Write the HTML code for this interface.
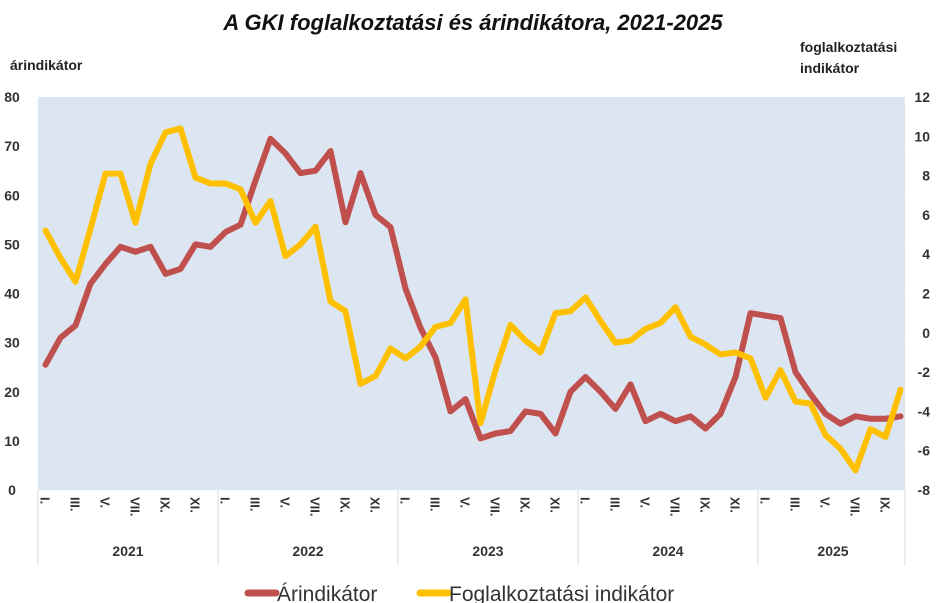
<!DOCTYPE html>
<html><head><meta charset="utf-8"><style>
html,body{margin:0;padding:0;background:#fff;}
svg{display:block;font-family:"Liberation Sans",sans-serif;}
</style></head><body>
<svg id="chart" width="946" height="603" viewBox="0 0 946 603">
<text x="473" y="30" text-anchor="middle" font-size="22" font-weight="bold" font-style="italic" fill="#111">A GKI foglalkoztatási és árindikátora, 2021-2025</text>
<text x="10" y="70" font-size="14" font-weight="bold" fill="#222">árindikátor</text>
<text x="800" y="52" font-size="14" font-weight="bold" fill="#222">foglalkoztatási</text>
<text x="800" y="73" font-size="14" font-weight="bold" fill="#222">indikátor</text>
<rect x="38" y="97" width="867" height="393" fill="#dce6f2"/>
<g id="grid"></g><g id="axes"></g><g id="series"></g>
<g>
<line x1="248" y1="593" x2="276" y2="593" stroke="#c0504d" stroke-width="7" stroke-linecap="round"/>
<text x="277" y="601" font-size="21" fill="#333">Árindikátor</text>
<line x1="420" y1="593" x2="448" y2="593" stroke="#ffc000" stroke-width="7" stroke-linecap="round"/>
<text x="449" y="601" font-size="21" fill="#333">Foglalkoztatási indikátor</text>
</g>
</svg>
<script>
const years = ["2021","2022","2023","2024","2025"];
const monthLabels = ["I.","","III.","","V.","","VII.","","IX.","","XI.",""];
const leftTicks = [0,10,20,30,40,50,60,70,80];
const rightTicks = [-8,-6,-4,-2,0,2,4,6,8,10,12];
const arIndikator = [25.5,31,33.5,42,46,49.5,48.5,49.5,44,45,50,49.5,
 52.5,54,63,71.5,68.5,64.5,65,69,54.5,64.5,56,53.5,
 41,33,27,16,18.5,10.5,11.5,12,16,15.5,11.5,20,
 23,20,16.5,21.5,14,15.5,14,15,12.5,15.5,23,36,
 35.5,35,24,19.5,15.5,13.5,15,14.5,14.5,15];
const foglIndikator = [5.2,3.8,2.6,5.3,8.1,8.1,5.6,8.6,10.2,10.4,7.9,7.6,
 7.6,7.3,5.6,6.7,3.9,4.5,5.4,1.6,1.1,-2.6,-2.2,-0.8,
 -1.3,-0.7,0.3,0.5,1.7,-4.6,-1.9,0.4,-0.4,-1.0,1.0,1.1,
 1.8,0.6,-0.5,-0.4,0.2,0.5,1.3,-0.2,-0.6,-1.1,-1.0,-1.3,
 -3.3,-1.9,-3.5,-3.6,-5.2,-5.9,-7.0,-4.9,-5.3,-2.9];
const NS="http://www.w3.org/2000/svg";
const X0=38,STEP=15,TOP=97,BOT=490;
const xAt=i=>X0+STEP*(i+0.5);
const yL=v=>BOT-(v-0)/(80-0)*(BOT-TOP);
const yR=v=>BOT-(v+8)/(20)*(BOT-TOP);
function mk(tag,attrs,parent){const e=document.createElementNS(NS,tag);for(const k in attrs)e.setAttribute(k,attrs[k]);parent.appendChild(e);return e;}
const grid=document.getElementById('grid'),axes=document.getElementById('axes'),series=document.getElementById('series');
leftTicks.forEach(v=>{
  const y=yL(v);
  if(v>0&&v<80){const l=mk('line',{x1:X0,x2:905,y1:y,y2:y,stroke:'#e6e6e6','stroke-width':1},grid);
  
  }
  const t=mk('text',{x:12,y:y+5,'font-size':14,'font-weight':'bold',fill:'#333','text-anchor':'middle'},axes);t.textContent=v;
  
  
});
rightTicks.forEach(v=>{
  const t=mk('text',{x:930,y:yR(v)+5,'font-size':14,'font-weight':'bold',fill:'#333','text-anchor':'end'},axes);t.textContent=v;
  
  
});
const n=arIndikator.length;
years.forEach((yr,k)=>{
  const xs=X0+k*180;
  const sep=mk('line',{x1:xs,x2:xs,y1:BOT,y2:565,stroke:'#d9d9d9','stroke-width':1},axes);
  
  
  const months=Math.min(12,n-k*12);
  const xe=xs+months*STEP;
  const t=mk('text',{x:(xs+xe)/2,y:556,'font-size':14,'font-weight':'bold',fill:'#333','text-anchor':'middle'},axes);t.textContent=yr;
  
  
  for(let m=0;m<months;m++){
    if(!monthLabels[m])continue;
    const x=xAt(k*12+m);
    const ml=mk('text',{x:0,y:0,'font-size':13,'font-weight':'bold',fill:'#333',transform:`translate(${x-5},497) rotate(90)`},axes);ml.textContent=monthLabels[m];
    
    
  }
});
const endSep=mk('line',{x1:905,x2:905,y1:BOT,y2:565,stroke:'#d9d9d9','stroke-width':1},axes);


function line(data,fy,color,name){
  const p=mk('polyline',{points:data.map((v,i)=>xAt(i)+','+fy(v)).join(' '),fill:'none',stroke:color,'stroke-width':6,'stroke-linejoin':'round','stroke-linecap':'round'},series);
  
  
}
line(arIndikator,yL,'#c0504d','arindikator-line');
line(foglIndikator,yR,'#ffc000','foglalkoztatasi-line');
</script>
</body></html>
